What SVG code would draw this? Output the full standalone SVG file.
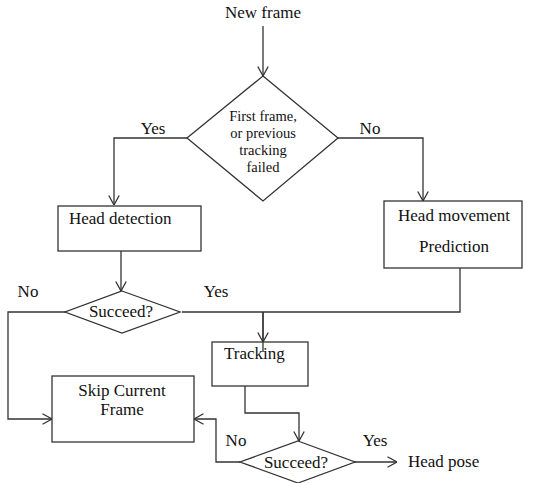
<svg xmlns="http://www.w3.org/2000/svg" width="560" height="483" viewBox="0 0 560 483">
<style>
.box{fill:#fff;stroke:#333;stroke-width:1.3}
.ln{fill:none;stroke:#333;stroke-width:1.3}
.arr{marker-end:url(#ah)}
text{font-family:"Liberation Serif","Times New Roman",serif;font-size:17px;fill:#111}
.c{text-anchor:middle}
.sm{font-size:14.5px}
</style>
<defs>
<marker id="ah" viewBox="0 0 10 12" refX="10" refY="6" markerWidth="10" markerHeight="12" markerUnits="userSpaceOnUse" orient="auto">
<path d="M0.5,0.8 L10,6 L0.5,11.2" fill="none" stroke="#333" stroke-width="1.3"/>
</marker>
</defs>
<rect width="560" height="483" fill="#fff"/>
<g id="connectors">
<path class="ln arr" d="M263,26 V76"/>
<path class="ln arr" d="M187,138 H114 V205"/>
<path class="ln arr" d="M338,138 H423 V201"/>
<path class="ln arr" d="M121,251 V291"/>
<path class="ln arr" d="M66,312 H8 V419 H52"/>
<path class="ln" d="M182,312 H460 V268"/>
<path class="ln" d="M263,312 V352"/>
<path class="ln arr" d="M263,312 V342"/>
<path class="ln arr" d="M245,386 V413 H299 V441"/>
<path class="ln arr" d="M240,462 H216 V419 H194"/>
<path class="ln arr" d="M354,462 H397"/>
<text x="153" y="134" class="c">Yes</text>
<text x="370" y="134" class="c">No</text>
<text x="28" y="297" class="c">No</text>
<text x="216" y="297" class="c">Yes</text>
<text x="236" y="446" class="c">No</text>
<text x="375" y="446" class="c">Yes</text>
</g>
<g id="new-frame"><text x="263" y="18" class="c">New frame</text></g>
<g id="decision-first">
<polygon class="box" points="263,76 338,138 263,201 187,138"/>
<text x="263" y="121" class="c sm">First frame,</text>
<text x="263" y="138" class="c sm">or previous</text>
<text x="263" y="155" class="c sm">tracking</text>
<text x="263" y="172" class="c sm">failed</text>
</g>
<g id="head-detection">
<rect class="box" x="58" y="206" width="143" height="45"/>
<text x="69" y="224">Head detection</text>
</g>
<g id="head-movement">
<rect class="box" x="384" y="201" width="138" height="67"/>
<text x="454" y="221" class="c">Head movement</text>
<text x="454" y="252" class="c">Prediction</text>
</g>
<g id="succeed-1">
<polygon class="box" points="122,291 180,312 122,333 65,312"/>
<text x="121" y="317" class="c">Succeed?</text>
</g>
<g id="tracking">
<rect class="box" x="212" y="342" width="96" height="44" fill-opacity="0"/>
<text x="224" y="359">Tracking</text>
</g>
<g id="skip">
<rect class="box" x="52" y="376" width="142" height="66"/>
<text x="122" y="396" class="c">Skip Current</text>
<text x="122" y="415" class="c">Frame</text>
</g>
<g id="succeed-2">
<polygon class="box" points="298,441 355,462 298,483 240,462"/>
<text x="296" y="468" class="c">Succeed?</text>
</g>
<g id="head-pose"><text x="408" y="467">Head pose</text></g>
</svg>
